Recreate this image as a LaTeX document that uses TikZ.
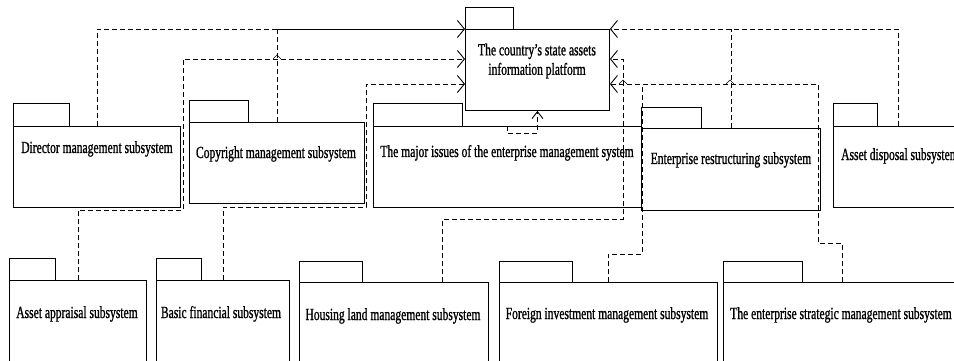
\documentclass[tikz,border=0pt]{standalone}
\usepackage{fontspec}
\setmainfont{Liberation Serif}[FakeStretch=0.68, FakeBold=1]
\usetikzlibrary{arrows.meta}

\begin{document}
\begin{tikzpicture}[x=1pt, y=-1pt,
    pkg/.style={draw, line width=0.9pt, inner sep=0pt, anchor=north west},
    lbl/.style={anchor=base, inner sep=0pt, font=\fontsize{17}{20}\selectfont},
    dep/.style={line width=0.9pt, dash pattern=on 5pt off 3pt},
    tip/.style={-{Straight Barb[length=7pt,width=17pt,line width=0.9pt]}},
    hop/.style={line width=0.6pt}]
    \useasboundingbox (0,0) rectangle (954,361);
    \fill[white] (0,0) rectangle (954,361);
    \clip (0,0) rectangle (954,361);

    % Platform
    \node[pkg, minimum width=48pt, minimum height=22pt] (plattab) at (465,7) {};
    \node[pkg, minimum width=144pt, minimum height=81pt] (plat) at (465,29) {};
    \node[align=center, inner sep=0pt, font=\fontsize{17}{19.5}\selectfont] (plattext) at (537,61) {The country's state assets\\information platform};

    % Top row
    \node[pkg, minimum width=56pt, minimum height=23pt] (dirtab) at (13,103) {};
    \node[pkg, minimum width=167pt, minimum height=81pt] (dir) at (13,126) {};
    \node[lbl] (dirtext) at (97,153) {Director management subsystem};

    \node[pkg, minimum width=59pt, minimum height=22pt] (copytab) at (189,100) {};
    \node[pkg, minimum width=175pt, minimum height=81pt] (copy) at (189,122) {};
    \node[lbl] (copytext) at (276,158) {Copyright management subsystem};

    \node[pkg, minimum width=89pt, minimum height=23pt] (majortab) at (373,103) {};
    \node[pkg, minimum width=268pt, minimum height=81pt] (major) at (373,126) {};
    \node[lbl] (majortext) at (507,157) {The major issues of the enterprise management system};

    \node[pkg, minimum width=60pt, minimum height=21pt] (restrtab) at (641,107) {};
    \node[pkg, fill=white, minimum width=179pt, minimum height=82pt] (restr) at (641,128) {};
    \node[lbl] (restrtext) at (731,164) {Enterprise restructuring subsystem};

    \node[pkg, minimum width=44pt, minimum height=23pt] (disptab) at (833,103) {};
    \node[pkg, minimum width=167pt, minimum height=81pt] (disp) at (833,126) {};
    \node[lbl, anchor=base west] (disptext) at (841,160) {Asset disposal subsystem};

    % Bottom row
    \node[pkg, minimum width=46pt, minimum height=22pt] (apprtab) at (9,258) {};
    \node[pkg, minimum width=137pt, minimum height=100pt] (appr) at (9,280) {};
    \node[lbl] (apprtext) at (77,318) {Asset appraisal subsystem};

    \node[pkg, minimum width=45pt, minimum height=22pt] (fintab) at (156,258) {};
    \node[pkg, minimum width=133pt, minimum height=100pt] (fin) at (156,280) {};
    \node[lbl] (fintext) at (221,318) {Basic financial subsystem};

    \node[pkg, minimum width=63pt, minimum height=21pt] (housetab) at (299,261) {};
    \node[pkg, minimum width=189pt, minimum height=100pt] (house) at (299,282) {};
    \node[lbl] (housetext) at (393,320) {Housing land management subsystem};

    \node[pkg, minimum width=73pt, minimum height=21pt] (foreigntab) at (499,261) {};
    \node[pkg, minimum width=218pt, minimum height=100pt] (foreign) at (499,282) {};
    \node[lbl] (foreigntext) at (607,319) {Foreign investment management subsystem};

    \node[pkg, minimum width=79pt, minimum height=21pt] (strattab) at (723,261) {};
    \node[pkg, minimum width=238pt, minimum height=100pt] (strat) at (723,282) {};
    \node[lbl] (strattext) at (841,319) {The enterprise strategic management subsystem};

    % Links into the left side of the platform
    \coordinate (jl) at (copy.north |- plat.north);
    \draw[dep] ([xshift=84pt]dir.north west) |- (jl);
    \draw[dep] (copy.north) -- (jl);
    \draw[line width=0.9pt, tip] (jl) -- (plat.north west);
    \draw[dep, tip] (appr.north) |- (183,210) |- (plat.west |- 0,59);
    \draw[dep, tip] (fin.north) |- (366,207) |- (plat.west |- 0,84);
    \draw[hop] (273,59) -- (277,55) -- (281,59);

    % Link from below
    \draw[dep, -{Straight Barb[length=7pt,width=11pt,line width=0.9pt]}] (major.north) -- ++(0,7) -| (plat.south);

    % Links into the right side of the platform
    \coordinate (jr) at (restr.north |- plat.north);
    \draw[dep, tip] ([xshift=65pt]disp.north west) |- (plat.north east);
    \draw[dep] (restr.north) -- (jr);
    \draw[dep, tip] ([xshift=-46pt]house.north east) |- (623,219) |- (plat.east |- 0,59);
    \draw[dep] (foreign.north) |- (642,254) -- (642,84);
    \draw[dep, tip] (strat.north) |- (818,243) |- (plat.east |- 0,84);
    \draw[hop] (619,84) -- (623,80) -- (627,84);
    \draw[hop] (726,84) -- (730,80) -- (734,84);
\end{tikzpicture}
\end{document}
